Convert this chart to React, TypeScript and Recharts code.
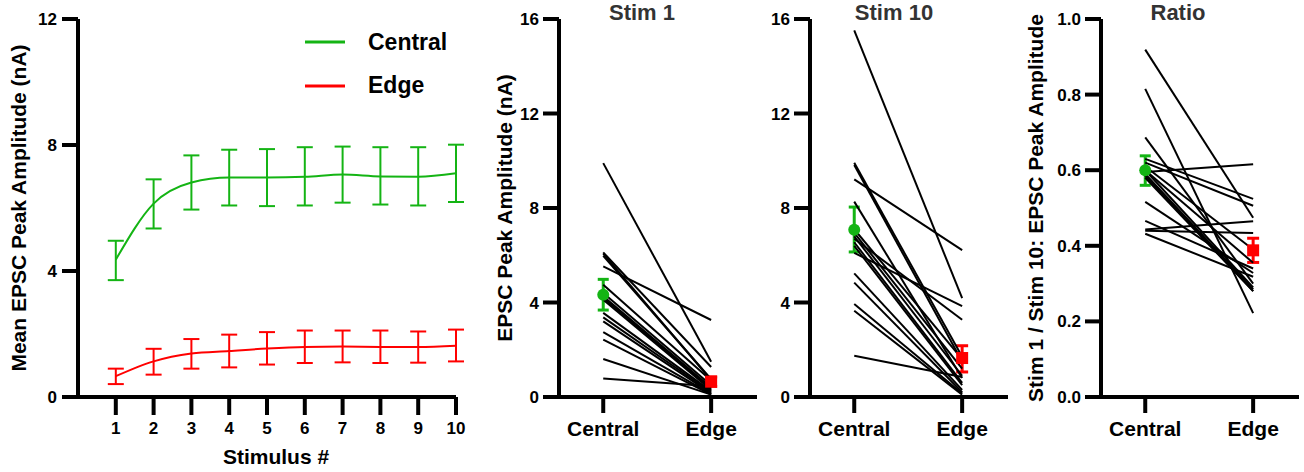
import React from 'react';
import { LineChart, Line, XAxis, YAxis, ErrorBar, ComposedChart, Scatter, Legend, ReferenceLine } from 'recharts';

const FONT = '"Liberation Sans", Arial, Helvetica, sans-serif';
const GREEN = '#14b414';
const RED = '#ff0000';

// ---- Panel 1: mean EPSC amplitude per stimulus ----
const stimuli = [1, 2, 3, 4, 5, 6, 7, 8, 9, 10];
const centralMean = [4.36, 6.14, 6.81, 6.97, 6.97, 6.99, 7.06, 7.0, 6.99, 7.1];
const centralLow = [3.71, 5.35, 5.95, 6.08, 6.06, 6.08, 6.17, 6.11, 6.08, 6.19];
const centralHigh = [4.96, 6.91, 7.67, 7.85, 7.87, 7.93, 7.95, 7.93, 7.93, 8.01];
const edgeMean = [0.66, 1.13, 1.38, 1.46, 1.54, 1.59, 1.6, 1.59, 1.59, 1.63];
const edgeLow = [0.41, 0.71, 0.9, 0.94, 1.03, 1.08, 1.1, 1.08, 1.09, 1.13];
const edgeHigh = [0.9, 1.53, 1.84, 1.98, 2.06, 2.11, 2.11, 2.11, 2.08, 2.14];
const panel1YTicks = [0, 4, 8, 12];

// ---- Paired panels ----
const groups = ['Central', 'Edge'];
const amplitudeTicks = [0, 4, 8, 12, 16];
const ratioTicks = [0, 0.2, 0.4, 0.6, 0.8, 1.0];

const stim1Central = [9.9, 6.12, 6.07, 5.98, 5.53, 4.75, 4.4, 4.26, 4.19, 4.12, 3.56, 3.37, 3.2, 2.75, 2.43, 1.61, 0.78];
const stim1Edge = [1.49, 1.27, 0.72, 0.75, 3.26, 0.7, 0.5, 0.4, 0.35, 0.3, 0.25, 0.2, 0.15, 0.12, 0.1, 0.1, 0.45];
const stim1Means = [4.33, 0.65];
const stim1Lows = [3.68, 0.45];
const stim1Highs = [4.98, 0.85];

const stim10Central = [15.52, 9.92, 9.82, 9.21, 8.27, 7.1, 6.95, 6.8, 6.7, 6.55, 6.4, 6.1, 5.23, 4.84, 3.94, 3.65, 1.75];
const stim10Edge = [4.18, 1.7, 1.5, 6.22, 0.8, 1.6, 1.2, 0.9, 3.27, 0.6, 0.5, 3.85, 0.3, 0.2, 0.15, 0.1, 0.85];
const stim10Means = [7.08, 1.65];
const stim10Lows = [6.14, 1.06];
const stim10Highs = [8.04, 2.17];

const ratioCentral = [0.919, 0.815, 0.687, 0.63, 0.62, 0.61, 0.6, 0.6, 0.595, 0.59, 0.585, 0.58, 0.516, 0.466, 0.443, 0.44, 0.432];
const ratioEdge = [0.474, 0.222, 0.3, 0.524, 0.506, 0.39, 0.355, 0.29, 0.616, 0.285, 0.28, 0.28, 0.328, 0.34, 0.465, 0.434, 0.318];
const ratioMeans = [0.6, 0.388];
const ratioLows = [0.56, 0.356];
const ratioHighs = [0.638, 0.42];

const AXIS_W = 4;
const labelStyle = { fill: '#000', fontSize: 21, fontWeight: 700, fontFamily: FONT, textAnchor: 'middle' as const };

// custom tick: draws the outward tick mark and the bold label
const makeYTick = (fmt: (v: number) => string, len: number, gap: number) => (p: any) => (
  <g>
    <line x1={p.x - len} x2={p.x} y1={p.y} y2={p.y} stroke="#000" strokeWidth={AXIS_W} />
    <text x={p.x - len - gap} y={p.y} dy="0.355em" textAnchor="end" fontSize={17} fontWeight={700} fontFamily={FONT} fill="#000">
      {fmt(p.payload.value)}
    </text>
  </g>
);

const makeXTick = (fmt: (v: number) => string, len: number, gap: number, size: number) => (p: any) => (
  <g>
    <line x1={p.x} x2={p.x} y1={p.y} y2={p.y + len} stroke="#000" strokeWidth={AXIS_W} />
    <text x={p.x} y={p.y + len + gap} dy="0.72em" textAnchor="middle" fontSize={size} fontWeight={700} fontFamily={FONT} fill="#000">
      {fmt(p.payload.value)}
    </text>
  </g>
);

const panel1Data = stimuli.map((s, i) => ({
  x: s,
  central: centralMean[i],
  centralErr: [centralMean[i] - centralLow[i], centralHigh[i] - centralMean[i]],
  edge: edgeMean[i],
  edgeErr: [edgeMean[i] - edgeLow[i], edgeHigh[i] - edgeMean[i]],
}));

const legendItems = [
  { name: 'Central', color: GREEN },
  { name: 'Edge', color: RED },
];

const renderLegend = () => (
  <svg width={180} height={80} style={{ display: 'block' }}>
    {legendItems.map((it, i) => (
      <g key={it.name}>
        <line x1={5} x2={45} y1={22 + i * 44} y2={22 + i * 44} stroke={it.color} strokeWidth={3} />
        <text x={68} y={30 + i * 43} fontSize={23} fontWeight={700} fontFamily={FONT} fill="#000">
          {it.name}
        </text>
      </g>
    ))}
  </svg>
);

const String0 = (v: number) => String(v);

function Panel1() {
  return (
    <div style={{ position: 'absolute', left: 0, top: 0 }}>
      <LineChart width={470} height={472} data={panel1Data} margin={{ top: 19, right: 14, bottom: 0, left: 0 }}>
        <XAxis
          type="number"
          dataKey="x"
          domain={[0, 10]}
          ticks={stimuli}
          height={75}
          axisLine={false}
          tickLine={false}
          tickSize={0}
          tickMargin={0}
          interval={0}
          tick={makeXTick(String0, 18, 7, 17)}
          label={{ value: 'Stimulus #', position: 'insideBottom', offset: 8, style: { ...labelStyle, transform: 'translateX(9px)' } }}
        />
        <YAxis
          type="number"
          domain={[0, 12]}
          ticks={panel1YTicks}
          width={78}
          axisLine={false}
          tickLine={false}
          tickSize={0}
          tickMargin={0}
          interval={0}
          tick={makeYTick(String0, 16, 5)}
          label={{ value: 'Mean EPSC Peak Amplitude (nA)', angle: -90, position: 'insideLeft', offset: 19, style: labelStyle }}
        />
        <ReferenceLine x={0} stroke="#000" strokeWidth={AXIS_W} />
        <ReferenceLine y={0} stroke="#000" strokeWidth={AXIS_W} />
        <Legend
          layout="horizontal"
          verticalAlign="middle"
          align="center"
          content={renderLegend}
          wrapperStyle={{ position: 'absolute', left: 300, top: 20, width: 180, height: 80 }}
        />
        <Line type="monotone" dataKey="central" name="Central" stroke={GREEN} strokeWidth={2} dot={false} isAnimationActive={false}>
          <ErrorBar dataKey="centralErr" direction="y" width={8} stroke={GREEN} strokeWidth={2} />
        </Line>
        <Line type="monotone" dataKey="edge" name="Edge" stroke={RED} strokeWidth={2} dot={false} isAnimationActive={false}>
          <ErrorBar dataKey="edgeErr" direction="y" width={8} stroke={RED} strokeWidth={2} />
        </Line>
      </LineChart>
    </div>
  );
}

const CircleShape = (p: any) => <circle cx={p.cx} cy={p.cy} r={6} fill={GREEN} />;
const SquareShape = (p: any) => <rect x={p.cx - 6} y={p.cy - 6} width={12} height={12} fill={RED} />;

const X_DOMAIN: [number, number] = [-0.41, 1.425];

type PairedProps = {
  left: number;
  width: number;
  yAxisWidth: number;
  rightMargin: number;
  yDomain: [number, number];
  yTicks: number[];
  central: number[];
  edge: number[];
  means: number[];
  lows: number[];
  highs: number[];
  yLabel?: string;
  labelOffset?: number;
  fmt: (v: number) => string;
};

function PairedPanel(props: PairedProps) {
  const { left, width, yAxisWidth, rightMargin, yDomain, yTicks, central, edge, means, lows, highs, yLabel, labelOffset, fmt } = props;
  const meanC = [{ x: 0, y: means[0], err: [means[0] - lows[0], highs[0] - means[0]] }];
  const meanE = [{ x: 1, y: means[1], err: [means[1] - lows[1], highs[1] - means[1]] }];
  return (
    <div style={{ position: 'absolute', left, top: 0 }}>
      <ComposedChart width={width} height={472} margin={{ top: 19, right: rightMargin, bottom: 0, left: 0 }}>
        <XAxis
          type="number"
          dataKey="x"
          domain={X_DOMAIN}
          ticks={[0, 1]}
          allowDataOverflow
          height={75}
          axisLine={false}
          tickLine={false}
          tickSize={0}
          tickMargin={0}
          interval={0}
          tick={makeXTick((v: number) => groups[v], 16, 8, 21)}
        />
        <YAxis
          type="number"
          dataKey="y"
          domain={yDomain}
          ticks={yTicks}
          allowDataOverflow
          width={yAxisWidth}
          axisLine={false}
          tickLine={false}
          tickSize={0}
          tickMargin={0}
          interval={0}
          tick={makeYTick(fmt, 16, 4)}
          label={yLabel ? { value: yLabel, angle: -90, position: 'insideLeft', offset: labelOffset, style: labelStyle } : undefined}
        />
        <ReferenceLine x={X_DOMAIN[0]} stroke="#000" strokeWidth={AXIS_W} />
        <ReferenceLine y={0} stroke="#000" strokeWidth={AXIS_W} />
        <Scatter data={meanC} shape={CircleShape} isAnimationActive={false}>
          <ErrorBar dataKey="err" direction="y" width={5.5} stroke={GREEN} strokeWidth={3} />
        </Scatter>
        <Scatter data={meanE} shape={SquareShape} isAnimationActive={false}>
          <ErrorBar dataKey="err" direction="y" width={6} stroke={RED} strokeWidth={3} />
        </Scatter>
        {central.map((c, i) => (
          <Line
            key={i}
            data={[{ x: 0, y: c }, { x: 1, y: edge[i] }]}
            dataKey="y"
            type="linear"
            stroke="#000"
            strokeWidth={2}
            dot={false}
            isAnimationActive={false}
          />
        ))}
      </ComposedChart>
    </div>
  );
}

const titleStyle = (cx: number): React.CSSProperties => ({
  position: 'absolute',
  left: cx - 100,
  width: 200,
  top: 0,
  textAlign: 'center',
  fontFamily: FONT,
  fontWeight: 700,
  fontSize: 22,
  lineHeight: 'normal',
  color: '#333',
  whiteSpace: 'nowrap',
});

export default function App() {
  return (
    <div style={{ position: 'absolute', left: 0, top: 0, width: 1304, height: 472, background: '#fff', overflow: 'hidden' }}>
      <Panel1 />
      <PairedPanel
        left={480}
        width={280}
        yAxisWidth={79}
        rightMargin={3}
        yDomain={[0, 16]}
        yTicks={amplitudeTicks}
        central={stim1Central}
        edge={stim1Edge}
        means={stim1Means}
        lows={stim1Lows}
        highs={stim1Highs}
        yLabel="EPSC Peak Amplitude (nA)"
        labelOffset={25}
        fmt={String0}
      />
      <PairedPanel
        left={760}
        width={250}
        yAxisWidth={50}
        rightMargin={2}
        yDomain={[0, 16]}
        yTicks={amplitudeTicks}
        central={stim10Central}
        edge={stim10Edge}
        means={stim10Means}
        lows={stim10Lows}
        highs={stim10Highs}
        fmt={String0}
      />
      <PairedPanel
        left={1020}
        width={284}
        yAxisWidth={81}
        rightMargin={5}
        yDomain={[0, 1]}
        yTicks={ratioTicks}
        central={ratioCentral}
        edge={ratioEdge}
        means={ratioMeans}
        lows={ratioLows}
        highs={ratioHighs}
        yLabel="Stim 1 / Stim 10: EPSC Peak Amplitude"
        labelOffset={16}
        fmt={(v: number) => v.toFixed(1)}
      />
      <div style={titleStyle(642)}>Stim 1</div>
      <div style={titleStyle(894)}>Stim 10</div>
      <div style={titleStyle(1178)}>Ratio</div>
    </div>
  );
}
